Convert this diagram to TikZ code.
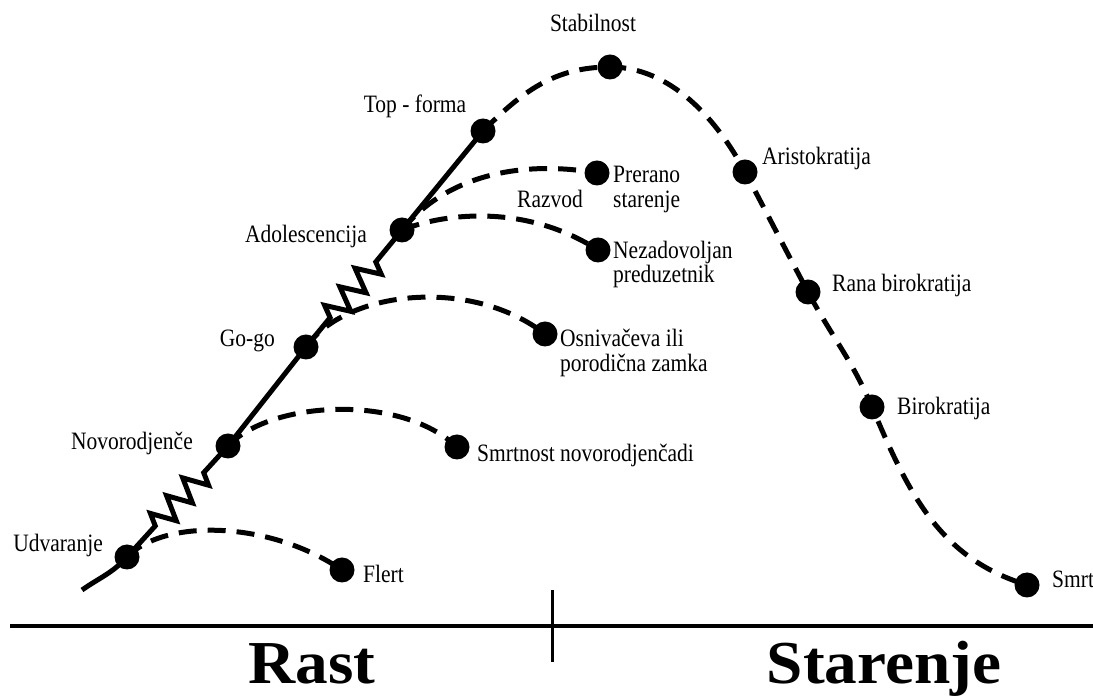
\documentclass[tikz,border=0pt]{standalone}
\usepackage{fontspec}
\setmainfont{Liberation Serif}[FakeStretch=0.86]
\newfontfamily\bigfont{Liberation Serif}[FakeStretch=1.07]
\usetikzlibrary{decorations.pathmorphing}
\begin{document}
\begin{tikzpicture}[x=1pt,y=1pt,
  dot/.style={circle,fill=black,inner sep=0pt,minimum size=25pt},
  lbl/.style={inner sep=0pt,font=\fontsize{25}{25}\selectfont},
  solidline/.style={line width=5pt},
  dashline/.style={line width=5pt,dash pattern=on 18pt off 11pt},
  zz/.style={line width=5pt,line join=miter,decorate,decoration={zigzag,segment length=24pt,amplitude=12pt,pre length=#1,post length=34pt}},
  big/.style={inner sep=0pt,font=\bigfont\bfseries\fontsize{61}{61}\selectfont}]
\useasboundingbox (0,0) rectangle (1093,696);
% dots
\node[dot] (udv) at (127,139) {};
\node[dot] (novo) at (228,250) {};
\node[dot] (gogo) at (306,349) {};
\node[dot] (adol) at (402,466) {};
\node[dot] (top) at (483,565) {};
\node[dot] (stab) at (610,629) {};
\node[dot] (arist) at (745,524) {};
\node[dot] (rana) at (808,404) {};
\node[dot] (biro) at (872,289) {};
\node[dot] (smrt) at (1027,111) {};
\node[dot] (flert) at (342,126) {};
\node[dot] (smrtn) at (457,249) {};
\node[dot] (osniv) at (545,362) {};
\node[dot] (nezad) at (598,446) {};
\node[dot] (prer) at (597,523) {};
\coordinate (s0) at (82,106);
% solid growth line
\draw[solidline] (s0) to[out=35,in=228] (udv.center);
\draw[zz=42pt] (udv.center) -- (novo.center);
\draw[solidline] (novo.center) -- (gogo.center);
\draw[zz=38pt] (gogo.center) -- (adol.center);
\draw[solidline] (adol.center) -- (top.center);
% main dashed curve
\draw[dashline] (top.center) to[out=45,in=180] (stab.center)
  to[out=0,in=118,looseness=0.9] (arist.center)
  to[out=-62,in=118] (rana.center)
  to[out=-62,in=113] (biro.center)
  to[out=-67,in=163] (smrt.center);
% branches
\draw[dashline] (udv.center) .. controls (165,178) and (270,175) .. (flert.center);
\draw[dashline] (novo.center) .. controls (270,295) and (400,303) .. (smrtn.center);
\draw[dashline] (gogo.center) .. controls (345,405) and (470,420) .. (osniv.center);
\draw[dashline] (adol.center) .. controls (450,485) and (530,490) .. (nezad.center);
\draw[dashline] (adol.center) .. controls (450,525) and (530,535) .. (prer.center);
% labels
\node[lbl,anchor=base east] (l1) at (103,144) {Udvaranje};
\node[lbl,anchor=base west] (l2) at (363,113) {Flert};
\node[lbl,anchor=base east] (l3) at (193,246) {Novorodjenče};
\node[lbl,anchor=base west] (l4) at (477,234) {Smrtnost novorodjenčadi};
\node[lbl,anchor=base east] (l5) at (275,349) {Go-go};
\node[lbl,anchor=base west] (l6) at (560,349) {Osnivačeva ili};
\node[lbl,anchor=base west] (l7) at (560,324) {porodična zamka};
\node[lbl,anchor=base east] (l8) at (367,453) {Adolescencija};
\node[lbl,anchor=base west] (l9) at (613,437) {Nezadovoljan};
\node[lbl,anchor=base west] (l10) at (613,413) {preduzetnik};
\node[lbl,anchor=base] (l11) at (550,488) {Razvod};
\node[lbl,anchor=base west] (l12) at (613,513) {Prerano};
\node[lbl,anchor=base west] (l13) at (613,488) {starenje};
\node[lbl,anchor=base] (l14) at (415,583) {Top - forma};
\node[lbl,anchor=base] (l15) at (593,664) {Stabilnost};
\node[lbl,anchor=base west] (l16) at (762,531) {Aristokratija};
\node[lbl,anchor=base west] (l17) at (832,404) {Rana birokratija};
\node[lbl,anchor=base west] (l18) at (897,281) {Birokratija};
\node[lbl,anchor=base west] (l19) at (1052,108) {Smrt};
% axis
\coordinate (ax0) at (10,70);
\coordinate (ax1) at (1093,70);
\coordinate (tk0) at (552,106);
\coordinate (tk1) at (552,34);
\draw[line width=4pt] (ax0) -- (ax1);
\draw[line width=3pt] (tk0) -- (tk1);
\node[big,anchor=base] (rast) at (312,12) {Rast};
\node[big,anchor=base] (star) at (884,12) {Starenje};
\end{tikzpicture}
\end{document}
